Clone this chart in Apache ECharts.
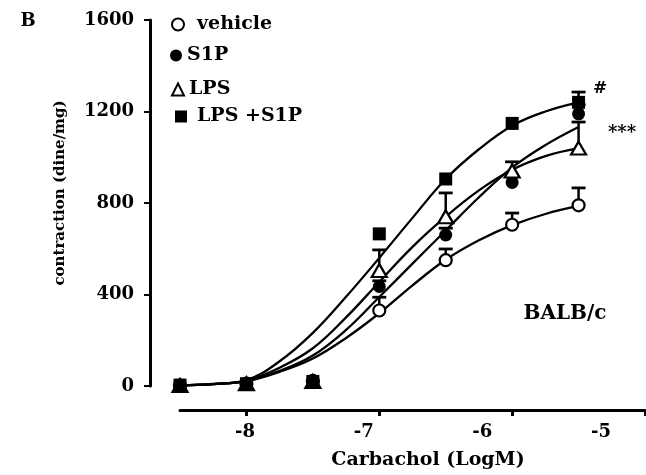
<!DOCTYPE html>
<html><head><meta charset="utf-8">
<script src="https://cdn.jsdelivr.net/npm/echarts@6/dist/echarts.min.js"></script>
<style>html,body{margin:0;padding:0;background:#fff}#c{width:646px;height:475px}</style>
</head><body><div id="c"></div>
<script>
// ---- data ----
const doseX = [-8.5, -8, -7.5, -7, -6.5, -6, -5.5];
const vehicleMean = [2, 10, 20, 330, 550, 705, 790];
const vehicleErr  = [0, 0, 0, 58, 49, 51, 76];
const s1pMean = [3, 12, 25, 435, 660, 890, 1190];
const s1pErr  = [0, 0, 0, 25, 30, 30, 40];
const lpsMean = [2, 10, 20, 505, 740, 940, 1040];
const lpsErr  = [0, 0, 0, 90, 104, 40, 114];
const lpsS1pMean = [4, 10, 20, 665, 905, 1148, 1240];
const lpsS1pErr  = [0, 0, 0, 0, 0, 0, 45];

const curveX = [-8.5, -8.25, -8, -7.75, -7.5, -7.25, -7, -6.75, -6.5, -6.25, -6, -5.75, -5.5];
const vehicleFit = [3, 8, 21, 62, 120, 210, 318, 440, 552, 637, 703, 752, 787];
const s1pFit     = [3, 8, 22, 66, 133, 245, 389, 535, 680, 825, 955, 1053, 1132];
const lpsFit     = [3, 8, 23, 80, 165, 300, 455, 608, 740, 855, 945, 1005, 1040];
const lpsS1pFit  = [3, 9, 26, 108, 232, 390, 560, 735, 905, 1035, 1138, 1200, 1240];

const yTickValues = [0, 400, 800, 1200, 1600];
const xTickValues = [-8, -7, -6, -5];
const xTickLabels = ['-8', '-7', '-6', '-5'];
const seriesNames = ['vehicle', 'S1P', 'LPS', 'LPS +S1P'];

// ---- styling ----
const FONT = 'DejaVu Serif';
const BLACK = '#000';
const groups = [
  {name: seriesNames[0], mean: vehicleMean, err: vehicleErr, fit: vehicleFit, symbol: 'circle', size: 12, fill: '#fff'},
  {name: seriesNames[1], mean: s1pMean, err: s1pErr, fit: s1pFit, symbol: 'circle', size: 13, fill: BLACK},
  {name: seriesNames[2], mean: lpsMean, err: lpsErr, fit: lpsFit, symbol: 'triangle', size: [15, 13], fill: '#fff'},
  {name: seriesNames[3], mean: lpsS1pMean, err: lpsS1pErr, fit: lpsS1pFit, symbol: 'rect', size: 13, fill: BLACK}
];

const series = [];
groups.forEach(function (g, gi) {
  series.push({
    type: 'line', name: g.name + ' fit', data: curveX.map((x, i) => [x, g.fit[i]]),
    smooth: 0.4, showSymbol: false, silent: true, z: 2,
    lineStyle: {color: BLACK, width: 2.3}
  });
  series.push({
    type: 'custom', name: g.name + ' err', z: 3, silent: true,
    data: doseX.map((x, i) => [x, g.mean[i], g.mean[i] + g.err[i], g.err[i]]),
    renderItem: function (params, api) {
      if (api.value(3) <= 0) return null;
      const p0 = api.coord([api.value(0), api.value(1)]);
      const p1 = api.coord([api.value(0), api.value(2)]);
      const hw = 7;
      return {type: 'group', children: [
        {type: 'line', shape: {x1: p0[0], y1: p0[1], x2: p1[0], y2: p1[1]}, style: {stroke: BLACK, lineWidth: 2.5}},
        {type: 'line', shape: {x1: p1[0] - hw, y1: p1[1], x2: p1[0] + hw, y2: p1[1]}, style: {stroke: BLACK, lineWidth: 2.8}}
      ]};
    }
  });
  series.push({
    type: 'scatter', name: g.name, z: 4 + gi,
    data: doseX.map((x, i) => [x, g.mean[i]]),
    symbol: g.symbol, symbolSize: g.size,
    itemStyle: {color: g.fill, borderColor: BLACK, borderWidth: g.fill === '#fff' ? 2.2 : 0, opacity: 1}
  });
});

const legendPos = [
  {left: 171, top: 15, pad: 8},
  {left: 170, top: 46, pad: 0},
  {left: 171, top: 80, pad: 0},
  {left: 175, top: 107, pad: 5}
];
const legends = groups.map(function (g, i) {
  return {
    data: [{name: g.name, icon: g.symbol,
      itemStyle: {color: g.fill, borderColor: BLACK, borderWidth: g.fill === '#fff' ? 2 : 0}}],
    left: legendPos[i].left, top: legendPos[i].top, padding: 0,
    itemWidth: 12, itemHeight: 12, selectedMode: false,
    textStyle: {fontFamily: FONT, fontWeight: 'bold', fontSize: 19, color: BLACK, padding: [0, 0, 0, legendPos[i].pad]}
  };
});

function txt(text, x, y, size, rot) {
  return {type: 'text', x: x, y: y, rotation: rot || 0, silent: true,
    style: {text: text, fill: BLACK, font: 'bold ' + size + 'px "' + FONT + '"',
      align: 'center', verticalAlign: 'middle', textAlign: 'center', textVerticalAlign: 'middle'}};
}

const chart = echarts.init(document.getElementById('c'), null, {renderer: 'canvas'});
chart.setOption({
  backgroundColor: '#fff',
  animation: false,
  grid: {left: 180, right: 1, top: 20, height: 366, containLabel: false},
  xAxis: [{
    type: 'value', min: -8.5, max: -5, position: 'bottom', offset: 24,
    axisLine: {show: true, onZero: false, lineStyle: {color: BLACK, width: 3}},
    axisTick: {show: true, customValues: xTickValues, length: 6, lineStyle: {color: BLACK, width: 3}},
    axisLabel: {show: false},
    splitLine: {show: false}
  }, {
    type: 'value', min: -8.5485, max: -4.6287, position: 'bottom', offset: 24,
    axisLine: {show: false}, axisTick: {show: false}, splitLine: {show: false},
    axisLabel: {show: true, customValues: xTickValues, margin: 13,
      formatter: function (v) { return xTickLabels[xTickValues.indexOf(v)]; },
      fontFamily: FONT, fontWeight: 'bold', fontSize: 18, color: BLACK}
  }],
  yAxis: {
    type: 'value', min: 0, max: 1600, interval: 400, offset: 30,
    axisLine: {show: true, lineStyle: {color: BLACK, width: 3}},
    axisTick: {show: true, customValues: yTickValues, length: 6, lineStyle: {color: BLACK, width: 2}},
    axisLabel: {margin: 16, customValues: yTickValues, formatter: function (v) { return String(v); },
      fontFamily: FONT, fontWeight: 'bold', fontSize: 18, color: BLACK},
    splitLine: {show: false}
  },
  legend: legends,
  graphic: [
    txt('B', 28, 21, 18),
    txt('contraction (dine/mg)', 60, 193, 15, Math.PI / 2),
    txt('Carbachol (LogM)', 428, 460, 19),
    txt('BALB/c', 565, 314, 20),
    txt('#', 600, 89, 17),
    txt('***', 622, 133, 18)
  ],
  series: series
});
</script></body></html>
